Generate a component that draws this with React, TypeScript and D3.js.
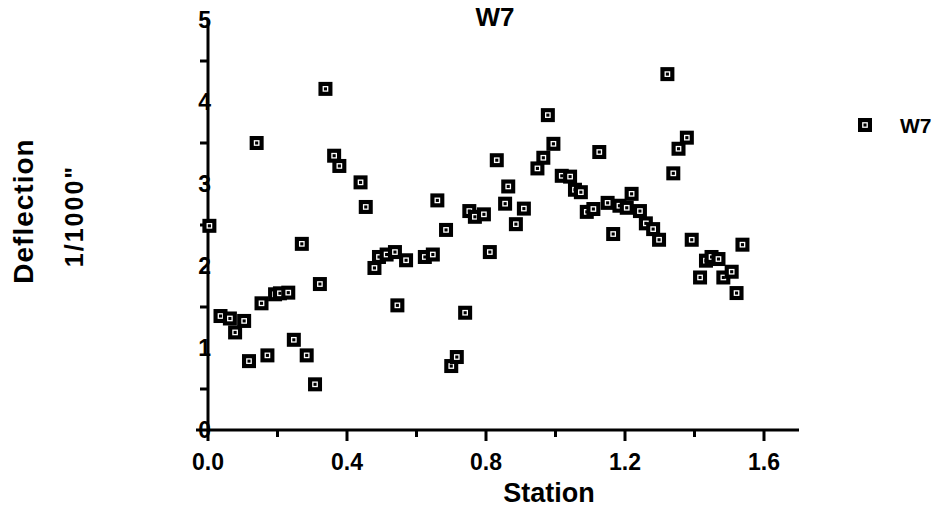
import React from "react";
import * as d3 from "d3";

const stations = [0.004,0.036,0.063,0.078,0.104,0.118,0.14,0.154,0.171,0.193,0.207,0.231,0.247,0.27,0.284,0.308,0.322,0.338,0.363,0.378,0.439,0.454,0.479,0.492,0.514,0.538,0.545,0.57,0.624,0.647,0.66,0.685,0.70,0.716,0.74,0.752,0.768,0.794,0.811,0.831,0.855,0.864,0.886,0.909,0.948,0.965,0.978,0.994,1.018,1.042,1.056,1.073,1.09,1.109,1.126,1.15,1.166,1.184,1.205,1.219,1.243,1.26,1.281,1.298,1.322,1.339,1.354,1.378,1.392,1.416,1.433,1.449,1.469,1.483,1.507,1.521,1.538];
const deflections = [2.49,1.39,1.36,1.19,1.33,0.84,3.50,1.545,0.91,1.655,1.667,1.675,1.10,2.27,0.91,0.557,1.78,4.16,3.345,3.22,3.02,2.72,1.976,2.11,2.14,2.17,1.52,2.07,2.11,2.14,2.80,2.44,0.78,0.89,1.43,2.67,2.60,2.63,2.17,3.29,2.76,2.97,2.51,2.70,3.19,3.32,3.84,3.49,3.10,3.09,2.93,2.90,2.66,2.695,3.39,2.77,2.39,2.735,2.71,2.88,2.67,2.52,2.45,2.32,4.34,3.13,3.43,3.565,2.32,1.86,2.065,2.11,2.085,1.86,1.93,1.67,2.26];
const xTickLabels = ["0.0", "0.4", "0.8", "1.2", "1.6"];
const xTickValues = [0, 0.4, 0.8, 1.2, 1.6];
const xMinorTicks = [0.2, 0.6, 1.0, 1.4];
const yTickValues = [0, 1, 2, 3, 4, 5];
const yMinorTicks = [0.5, 1.5, 2.5, 3.5, 4.5];
const seriesName = "W7";

const FONT = "'Liberation Sans', Arial, Helvetica, sans-serif";

export default function App() {
  const x = d3.scaleLinear().domain([0, 1.7]).range([208, 798.75]);
  const y = d3.scaleLinear().domain([0, 5]).range([430, 20]);
  const data = stations.map((s, i) => ({ s, d: deflections[i] }));
  const M = 14;
  const marker = (cx: number, cy: number, key: any) => (
    <g key={key}>
      <rect x={cx - M / 2} y={cy - M / 2} width={M} height={M} fill="#000" />
      <rect x={cx - 2.2} y={cy - 2.2} width={4.4} height={4.4} fill="none" stroke="#fff" strokeWidth={1.3} />
    </g>
  );
  return (
    <svg width={938} height={510} style={{ position: "absolute", left: 0, top: 0, background: "#fff" }} fontFamily={FONT}>
      <rect width={938} height={510} fill="#fff" />
      {/* title */}
      <text x={495} y={26} textAnchor="middle" fontSize={26} fontWeight="bold">W7</text>
      {/* axes */}
      <line x1={208} y1={y(5)} x2={208} y2={431.5} stroke="#000" strokeWidth={3} />
      <line x1={196} y1={430} x2={799} y2={430} stroke="#000" strokeWidth={3} />
      {yMinorTicks.map((t) => (
        <line key={"ym" + t} x1={200} x2={208} y1={y(t)} y2={y(t)} stroke="#000" strokeWidth={3} />
      ))}
      {yTickValues.map((t) => (
        <text key={"yt" + t} x={211} y={y(t)} dy="0.36em" textAnchor="end" fontSize={23} fontWeight="bold">{t}</text>
      ))}
      {xTickValues.map((t) => (
        <line key={"xt" + t} x1={x(t)} x2={x(t)} y1={430} y2={441} stroke="#000" strokeWidth={3} />
      ))}
      {xMinorTicks.map((t) => (
        <line key={"xm" + t} x1={x(t)} x2={x(t)} y1={430} y2={437} stroke="#000" strokeWidth={3} />
      ))}
      {xTickValues.map((t, i) => (
        <text key={"xl" + t} x={x(t)} y={470} textAnchor="middle" fontSize={23} fontWeight="bold">{xTickLabels[i]}</text>
      ))}
      <text x={549} y={502} textAnchor="middle" fontSize={27} fontWeight="bold">Station</text>
      <text transform="translate(33,211) rotate(-90)" textAnchor="middle" fontSize={28} fontWeight="bold" letterSpacing={1}>Deflection</text>
      <text transform="translate(83,216) rotate(-90)" textAnchor="middle" fontSize={25} fontWeight="bold" letterSpacing={2}>1/1000"</text>
      {data.map((p, i) => marker(x(p.s), y(p.d), i))}
      {/* legend */}
      {marker(865, 125, "leg")}
      <text x={900} y={125} dy="0.36em" fontSize={21} fontWeight="bold">{seriesName}</text>
    </svg>
  );
}
